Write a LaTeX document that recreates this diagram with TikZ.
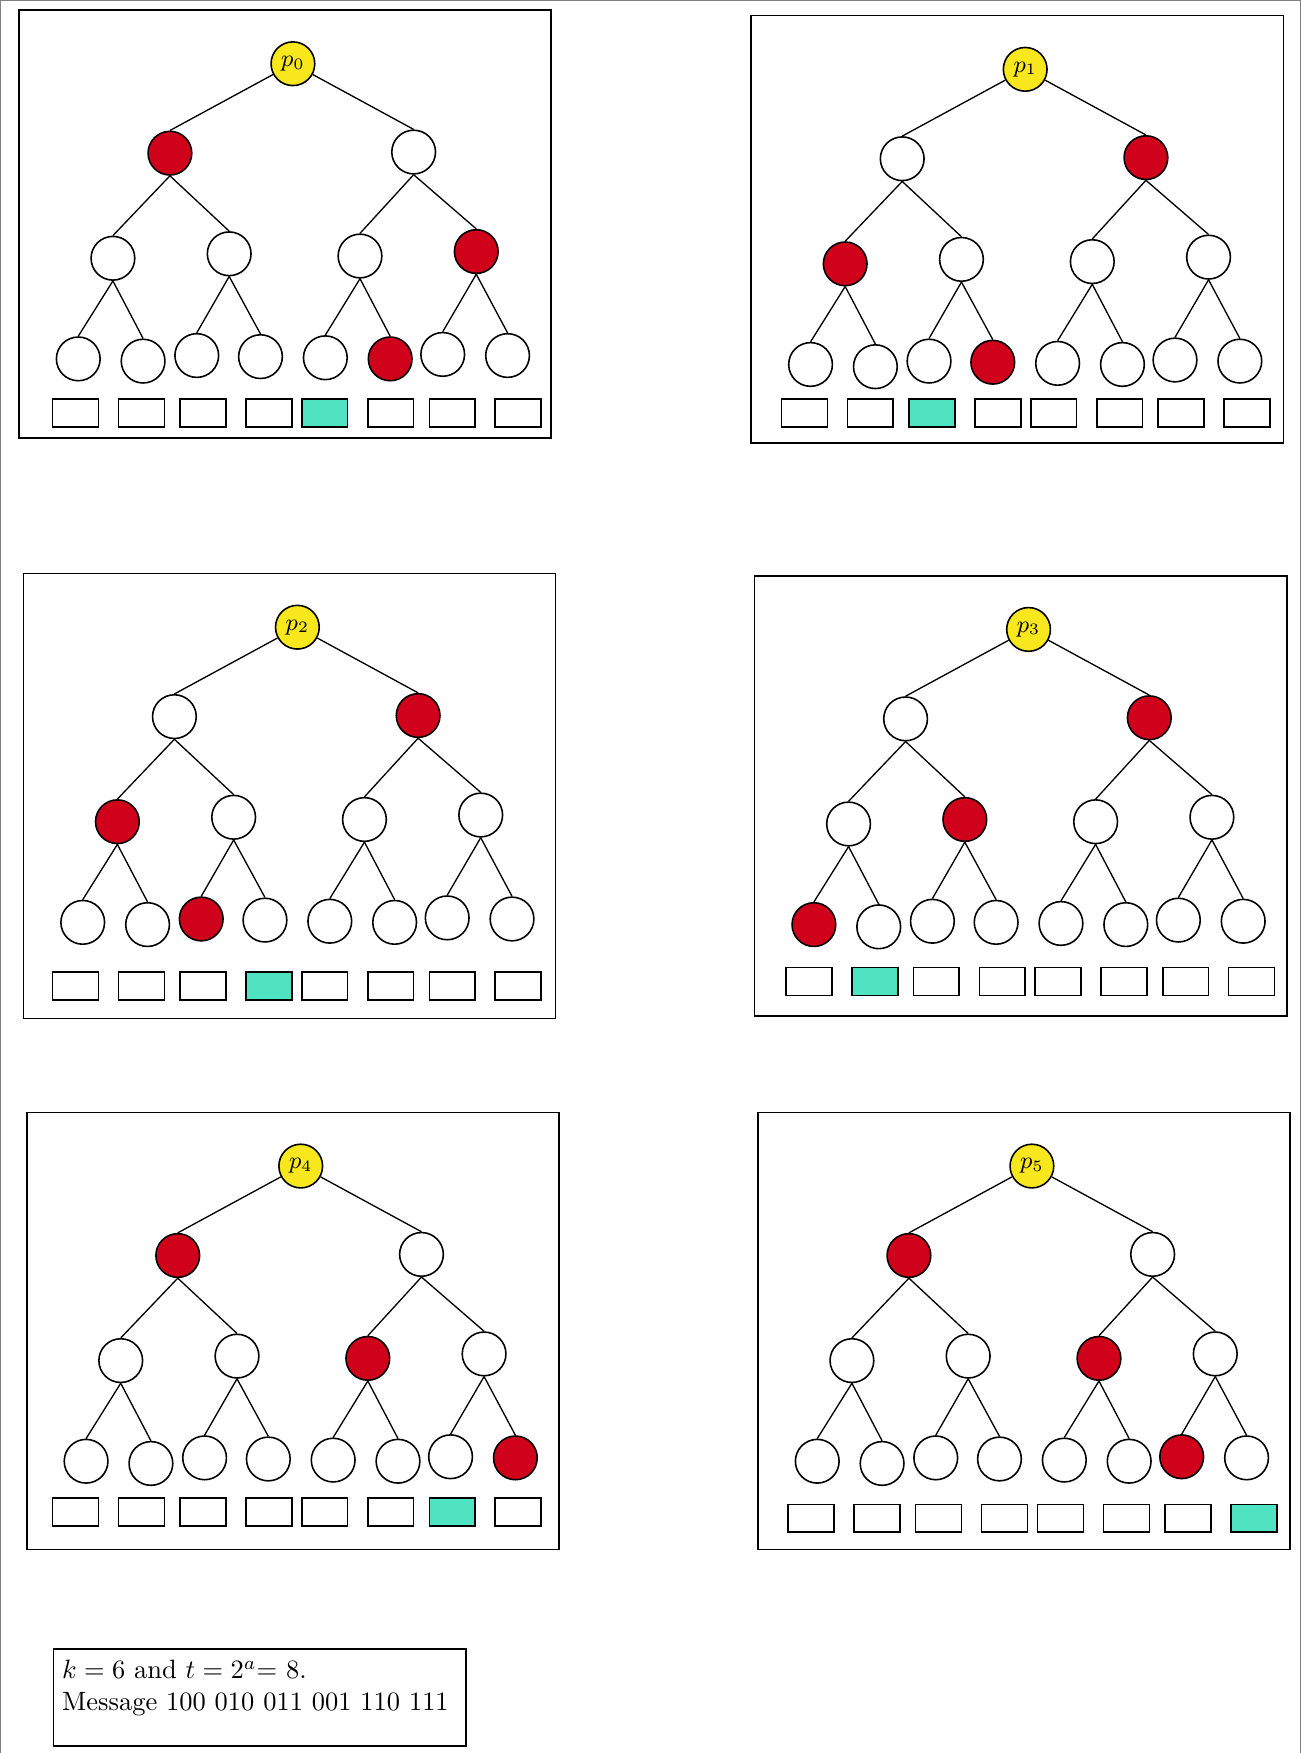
\documentclass[tikz,border=0pt]{standalone}
\usepackage{amsmath}
\usepackage{tikz}
\usetikzlibrary{positioning}
\definecolor{pathred}{HTML}{D0021B}
\definecolor{sunyellow}{HTML}{F8E71C}
\definecolor{mint}{HTML}{50E3C2}

\begin{document}
\begin{tikzpicture}[
  x=0.422pt, y=-0.422pt,
  vertex/.style={circle, draw, semithick, minimum size=16.5pt, inner sep=0pt, fill=white},
  rootnode/.style={vertex, fill=sunyellow, font=\small},
  slot/.style={rectangle, draw, semithick, minimum width=17.3pt, minimum height=10.5pt, inner sep=0pt, fill=white},
  edge/.style={line width=0.5pt},
  panel/.style={semithick},
  outer/.style={gray, line width=0.4pt},
  infobox/.style={rectangle, draw, semithick, align=left, text width=149pt, text height=8pt, text depth=22pt, inner sep=3.33pt}
]
\useasboundingbox (0,0) rectangle (1164,1568);

% page frame, open at the bottom
\draw[outer] (0.5,1568) -- (0.5,0.5) -- (1163,0.5) -- (1163,1568);

% one panel per party: panel/leaf/root x/root y/frame bottom/slot x/slot y
\foreach \p/\m/\rx/\ry/\fb/\bx/\by in {
    0/4/262/57/335/-194.5/312.5,
    1/2/917/62/334/-197.5/307.5,
    2/3/266/561/350/-198.5/321,
    3/1/920/563/346/-196.5/315,
    4/6/269/1043/343/-201.5/309.5,
    5/7/923/1043/343/-197.5/315}{
  % red nodes are the siblings along the path to leaf \m
  \pgfmathtruncatemacro\ra{1-int(\m/4)}
  \pgfmathtruncatemacro\rb{int(\m/2)+1-2*mod(int(\m/2),2)}
  \pgfmathtruncatemacro\rc{\m+1-2*mod(\m,2)}
  \begin{scope}[shift={(\rx,\ry)}]
    \draw[panel] (-245,-48) rectangle (231,\fb);
    \node[rootnode] (r\p) at (0,0) {$p_{\p}$};

    % level 1
    \foreach \j/\dx/\dy in {0/-110/80, 1/108/79}{
      \ifnum\j=\ra\relax \def\fc{pathred}\else \def\fc{white}\fi
      \node[vertex, fill=\fc] (a\p-\j) at (\dx,\dy) {};
      \draw[edge] (r\p) -- (a\p-\j.north);
    }

    % level 2
    \foreach \j/\dx/\dy in {0/-161/174, 1/-57/170, 2/60/172, 3/164/168}{
      \pgfmathtruncatemacro\q{\j/2}
      \ifnum\j=\rb\relax \def\fc{pathred}\else \def\fc{white}\fi
      \node[vertex, fill=\fc] (b\p-\j) at (\dx,\dy) {};
      \draw[edge] (a\p-\q.south) -- (b\p-\j.north);
    }

    % leaves
    \foreach \j/\dx/\dy in {0/-192/264, 1/-134/266, 2/-86/261, 3/-29/262,
                            4/29/263, 5/87/264, 6/134/260, 7/192/261}{
      \pgfmathtruncatemacro\q{\j/2}
      \ifnum\j=\rc\relax \def\fc{pathred}\else \def\fc{white}\fi
      \node[vertex, fill=\fc] (c\p-\j) at (\dx,\dy) {};
      \draw[edge] (b\p-\q.south) -- (c\p-\j.north);
    }

    % slots
    \foreach \k/\sx in {0/0, 1/59, 2/114, 3/173, 4/223, 5/282, 6/337, 7/396}{
      \ifnum\k=\m\relax \def\sc{mint}\else \def\sc{white}\fi
      \node[slot, fill=\sc] (s\p-\k) at (\bx+\sx,\by) {};
    }
  \end{scope}
}

% parameters
\node[infobox, anchor=north west] (info) at (47,1474)
  {$k=6$ and $t=2^a$= 8.\\Message 100 010 011 001 110 111};

\end{tikzpicture}
\end{document}
